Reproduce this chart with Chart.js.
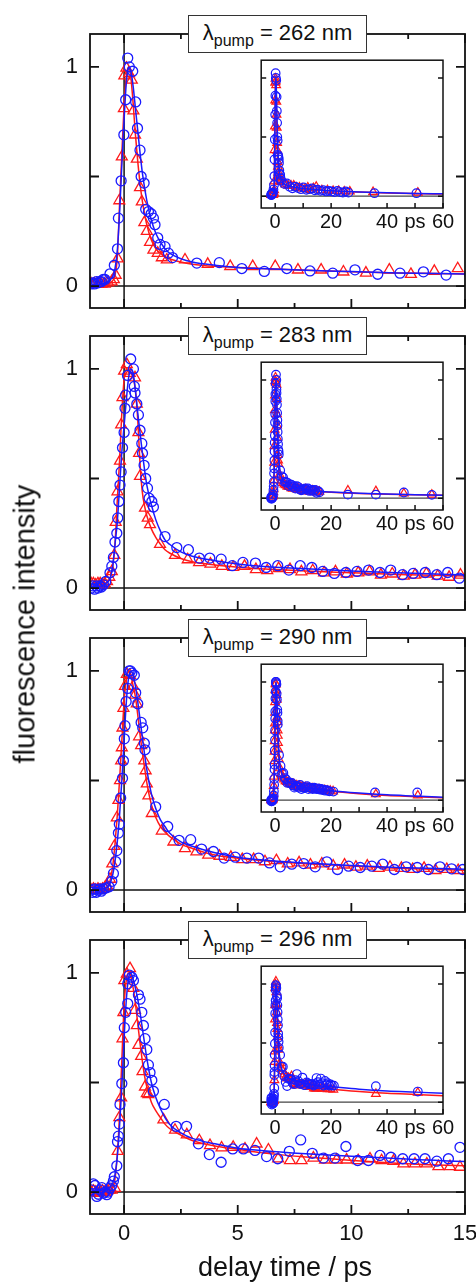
<!DOCTYPE html>
<html><head><meta charset="utf-8">
<script src="https://cdn.jsdelivr.net/npm/chart.js@4.4.1/dist/chart.umd.min.js"></script>
<style>
html,body{margin:0;padding:0;background:#fff;overflow:hidden;}
body{width:476px;height:1283px;position:relative;font-family:"Liberation Sans",Arial,sans-serif;color:#000;}
.wrap{position:absolute;}
.wrap canvas{display:block;}
.lab{position:absolute;left:188px;width:179px;height:38px;box-sizing:border-box;border:1.5px solid #333;background:#fff;font-size:22px;line-height:33px;text-align:center;color:#111;z-index:5;white-space:nowrap;}
.lab sub{font-size:16px;vertical-align:-6px;line-height:0;}
.title{position:absolute;transform:translate(-50%,-50%);white-space:nowrap;color:#111;}
</style></head>
<body>
<div id="root"></div>
<div class="title" style="left:285px;top:1267px;font-size:27px;">delay time / ps</div>
<div class="title" style="left:25px;top:624px;font-size:29px;transform:translate(-50%,-50%) rotate(-90deg);">fluorescence intensity</div>
<script>
// ---------------- data ----------------
const pumpLabels = ['262', '283', '290', '296'];
const fitT = [-1.5,-1,-0.7,-0.6,-0.5,-0.4,-0.3,-0.2,-0.1,0,0.1,0.2,0.3,0.4,0.5,0.6,0.7,0.8,0.9,1.0,1.2,1.4,1.6,1.8,2,2.5,3,4,5,6,8,10,12,15,20,30,40,50,60];

// panel 1 (262 nm)
const p1RedT = [-1.45,-1.3,-1.15,-1.0,-0.85,-0.7,-0.55,-0.45,-0.37,-0.28,-0.21,-0.10,-0.01,0.01,0.10,0.22,0.34,0.41,0.48,0.56,0.70,0.78,0.89,1.0,1.14,1.29,1.48,1.66,1.88,2.68,3.68,4.67,5.66,6.65,7.65,8.67,9.65,10.64,11.67,12.62,13.65,14.68,16.7,18.7,20.7,22.7,24.7,26.7,35,51];
const p1RedI = [0.01,0.01,0.01,0.01,0.01,0.015,0.02,0.03,0.05,0.125,0.39,0.59,0.81,0.96,0.995,0.97,0.94,0.80,0.69,0.58,0.45,0.385,0.29,0.25,0.20,0.165,0.15,0.13,0.12,0.12,0.10,0.09,0.09,0.09,0.074,0.074,0.065,0.06,0.074,0.054,0.068,0.08,0.05,0.05,0.045,0.045,0.04,0.04,0.035,0.03];
const p1BlueT = [-1.45,-1.38,-1.3,-1.22,-1.15,-1.07,-1.0,-0.92,-0.84,-0.62,-0.43,-0.29,-0.25,-0.13,-0.01,0.07,0.16,0.23,0.38,0.51,0.59,0.70,0.75,0.88,0.95,1.07,1.19,1.29,1.36,1.48,1.58,1.80,1.95,2.13,3.2,4.19,5.18,6.17,7.16,8.18,9.18,10.16,11.16,12.14,13.17,14.17,15.2,16.2,17.2,18.2,19.2,20.2,21.2,22.2,23.2,24.2,25.2,26.2,35.5,50.5];
const p1BlueI = [0.01,0.015,0.01,0.02,0.015,0.02,0.02,0.03,0.03,0.056,0.095,0.17,0.31,0.48,0.69,0.85,1.04,1.0,0.98,0.84,0.72,0.62,0.50,0.47,0.35,0.34,0.33,0.31,0.28,0.22,0.19,0.18,0.15,0.13,0.105,0.107,0.08,0.067,0.08,0.069,0.059,0.074,0.054,0.059,0.065,0.05,0.055,0.045,0.05,0.04,0.045,0.04,0.035,0.045,0.035,0.03,0.04,0.03,0.025,0.025];
const p1RedFit = [0,0.005,0.01,0.015,0.025,0.05,0.13,0.37,0.6,0.82,0.96,1.0,0.95,0.83,0.69,0.57,0.47,0.39,0.33,0.28,0.21,0.17,0.15,0.135,0.125,0.11,0.1,0.09,0.085,0.08,0.072,0.065,0.06,0.055,0.045,0.035,0.027,0.022,0.018];
const p1BlueFit = [0.005,0.01,0.02,0.03,0.045,0.08,0.16,0.33,0.55,0.76,0.93,1.0,0.98,0.91,0.81,0.71,0.61,0.52,0.45,0.39,0.3,0.24,0.2,0.17,0.15,0.125,0.11,0.095,0.085,0.08,0.072,0.066,0.06,0.055,0.045,0.035,0.028,0.023,0.02];

// panel 2 (283 nm)
const p2RedT = [-1.45,-1.35,-1.25,-1.15,-1.05,-0.95,-0.85,-0.75,-0.65,-0.54,-0.43,-0.37,-0.29,-0.18,-0.13,-0.07,0.0,0.12,0.25,0.48,0.56,0.63,0.66,0.70,0.92,1.04,1.14,1.58,2.24,2.8,3.3,3.8,4.3,4.8,5.3,5.8,6.3,6.8,7.3,7.8,8.3,8.8,9.3,9.8,10.3,10.8,11.3,11.8,12.3,12.8,13.3,13.8,14.3,14.8,15.3,15.8,26,36,46,56];
const p2RedI = [0.02,0.02,0.015,0.02,0.02,0.015,0.02,0.03,0.05,0.076,0.15,0.30,0.44,0.58,0.745,0.87,0.99,1.02,0.98,0.96,0.84,0.71,0.615,0.51,0.365,0.32,0.29,0.20,0.15,0.13,0.117,0.11,0.1,0.095,0.1,0.085,0.08,0.09,0.085,0.075,0.08,0.07,0.075,0.065,0.07,0.075,0.06,0.065,0.055,0.06,0.065,0.055,0.05,0.06,0.05,0.055,0.065,0.06,0.04,0.03];
const p2BlueT = [-1.45,-1.38,-1.3,-1.22,-1.15,-1.07,-1.0,-0.91,-0.81,-0.62,-0.54,-0.47,-0.40,-0.32,-0.28,-0.23,-0.18,-0.13,-0.07,0.0,0.04,0.07,0.15,0.29,0.41,0.45,0.48,0.56,0.63,0.70,0.78,0.81,0.88,0.95,1.03,1.10,1.22,1.29,1.80,2.32,2.83,3.31,3.77,4.27,4.76,5.23,5.78,6.25,6.76,7.25,7.75,8.26,8.74,9.25,9.76,10.25,10.76,11.26,11.73,12.25,12.72,13.25,13.76,14.24,14.75,15.3,15.8,26,36,46,56];
const p2BlueI = [0.0,0.01,-0.005,0.01,0.0,0.01,0.005,0.015,0.03,0.07,0.10,0.14,0.21,0.25,0.32,0.395,0.47,0.53,0.64,0.71,0.82,0.88,0.97,1.045,1.0,0.92,0.89,0.84,0.79,0.72,0.66,0.615,0.56,0.50,0.456,0.41,0.395,0.37,0.235,0.185,0.175,0.137,0.137,0.132,0.102,0.117,0.114,0.094,0.102,0.082,0.102,0.094,0.076,0.067,0.071,0.076,0.082,0.071,0.082,0.061,0.067,0.071,0.061,0.071,0.045,0.06,0.05,0.03,0.03,0.048,0.028];
const p2RedFit = [0.015,0.02,0.03,0.05,0.1,0.2,0.4,0.58,0.8,0.95,1.0,1.0,0.98,0.96,0.9,0.77,0.57,0.44,0.375,0.33,0.27,0.23,0.2,0.175,0.16,0.135,0.12,0.105,0.095,0.088,0.078,0.07,0.062,0.055,0.05,0.04,0.033,0.028,0.025];
const p2BlueFit = [0.005,0.01,0.03,0.05,0.1,0.2,0.3,0.46,0.62,0.74,0.86,0.96,1.0,0.98,0.9,0.8,0.71,0.62,0.54,0.47,0.38,0.31,0.26,0.22,0.2,0.165,0.145,0.125,0.11,0.1,0.088,0.078,0.07,0.06,0.052,0.042,0.035,0.03,0.025];

// panel 3 (290 nm)
const p3RedT = [-1.45,-1.35,-1.25,-1.15,-1.05,-0.95,-0.85,-0.75,-0.62,-0.52,-0.43,-0.32,-0.25,-0.18,-0.13,-0.10,-0.07,-0.03,0.04,0.12,0.26,0.40,0.48,0.56,0.66,0.75,0.89,0.95,1.0,1.07,1.22,1.66,2.17,2.68,3.18,3.7,4.2,4.7,5.2,5.7,6.2,6.7,7.2,7.7,8.2,8.7,9.2,9.7,10.2,10.7,11.2,11.7,12.2,12.7,13.2,13.7,14.2,14.7,15.7,16.7,17.7,18.7,19.7,20.7,36,51];
const p3RedI = [0.0,0.005,0.0,0.005,0.0,0.005,0.01,0.02,0.05,0.12,0.20,0.33,0.41,0.50,0.59,0.65,0.74,0.83,0.93,0.985,0.98,0.93,0.89,0.85,0.70,0.66,0.59,0.545,0.485,0.43,0.35,0.27,0.22,0.19,0.175,0.16,0.155,0.15,0.14,0.14,0.13,0.135,0.12,0.125,0.115,0.12,0.11,0.115,0.105,0.11,0.1,0.105,0.1,0.095,0.1,0.09,0.095,0.09,0.09,0.085,0.085,0.08,0.08,0.075,0.05,0.04];
const p3BlueT = [-1.45,-1.38,-1.3,-1.22,-1.15,-1.07,-1.0,-0.92,-0.8,-0.66,-0.54,-0.47,-0.37,-0.32,-0.25,-0.21,-0.15,-0.07,-0.03,0.01,0.04,0.09,0.16,0.22,0.28,0.34,0.45,0.51,0.60,0.75,0.82,0.89,0.92,1.39,1.92,2.42,2.93,3.41,3.93,4.40,4.89,5.40,5.92,6.40,6.87,7.38,7.90,8.41,8.92,9.39,9.88,10.39,10.90,11.38,11.89,12.41,12.90,13.39,13.90,14.41,14.90,15.4,15.9,16.4,16.9,17.4,17.9,18.4,18.9,19.4,20.8,35.7,50.8];
const p3BlueI = [0.0,-0.01,0.005,-0.01,0.0,0.005,-0.005,0.005,0.01,0.015,0.04,0.076,0.13,0.18,0.26,0.30,0.42,0.51,0.59,0.69,0.75,0.86,0.92,1.0,1.0,0.99,0.98,0.90,0.85,0.765,0.74,0.67,0.64,0.38,0.29,0.227,0.23,0.187,0.176,0.146,0.15,0.146,0.146,0.124,0.106,0.118,0.121,0.106,0.129,0.094,0.109,0.103,0.109,0.118,0.094,0.106,0.103,0.094,0.106,0.097,0.094,0.1,0.09,0.095,0.085,0.09,0.08,0.085,0.08,0.075,0.073,0.065,0.065];
const p3RedFit = [0,0.005,0.02,0.05,0.11,0.21,0.34,0.5,0.68,0.86,0.96,1.0,0.98,0.93,0.88,0.8,0.71,0.63,0.56,0.49,0.39,0.33,0.29,0.265,0.245,0.21,0.19,0.16,0.145,0.135,0.12,0.11,0.1,0.09,0.075,0.055,0.04,0.03,0.02];
const p3BlueFit = [0,0.005,0.015,0.035,0.07,0.13,0.22,0.34,0.5,0.68,0.86,0.97,1.0,0.98,0.93,0.86,0.78,0.7,0.62,0.55,0.44,0.37,0.32,0.29,0.26,0.22,0.2,0.17,0.15,0.138,0.123,0.112,0.103,0.095,0.08,0.06,0.045,0.035,0.025];

// panel 4 (296 nm)
const p4RedT = [-1.45,-1.35,-1.25,-1.15,-1.05,-0.95,-0.85,-0.75,-0.65,-0.55,-0.40,-0.28,-0.21,-0.13,-0.07,-0.03,0.01,0.12,0.26,0.41,0.48,0.56,0.63,0.75,0.81,0.92,1.0,1.07,1.73,2.24,2.76,3.31,3.78,4.29,4.8,5.32,5.83,6.35,6.78,7.3,7.81,8.33,8.84,9.35,9.79,10.3,10.82,11.33,11.85,12.29,12.8,13.32,13.83,14.34,14.78,15.8,16.8,17.8,18.8,19.8,20.8,36,51];
const p4RedI = [0.0,0.005,0.0,-0.005,0.0,0.005,0.0,0.005,0.01,0.01,0.018,0.186,0.34,0.43,0.70,0.82,0.965,0.995,1.02,0.93,0.83,0.76,0.67,0.62,0.55,0.48,0.45,0.445,0.33,0.283,0.262,0.235,0.213,0.202,0.205,0.197,0.22,0.193,0.152,0.144,0.144,0.156,0.147,0.147,0.147,0.144,0.152,0.144,0.141,0.129,0.129,0.129,0.117,0.117,0.114,0.12,0.115,0.115,0.11,0.11,0.105,0.07,0.08];
const p4BlueT = [-1.45,-1.35,-1.28,-1.2,-1.13,-1.06,-0.98,-0.91,-0.84,-0.76,-0.7,-0.62,-0.55,-0.47,-0.43,-0.32,-0.29,-0.25,-0.21,-0.18,-0.10,-0.03,0.01,0.07,0.16,0.16,0.23,0.34,0.41,0.63,0.70,0.78,0.85,0.92,1.0,1.07,1.14,1.22,1.29,1.77,2.29,2.75,3.27,3.75,4.27,4.78,5.25,5.76,6.27,6.76,7.27,7.77,8.28,8.77,9.28,9.76,10.28,10.75,11.26,11.74,12.26,12.76,13.24,13.76,14.27,14.78,15.3,15.8,16.3,16.8,17.3,17.8,18.3,18.8,19.3,19.8,20.3,21,36,51];
const p4BlueI = [0.01,0.037,0.03,-0.02,-0.01,0.01,0.02,-0.005,0.0,-0.012,0.0,0.018,0.03,0.05,0.07,0.12,0.23,0.255,0.31,0.40,0.495,0.59,0.75,0.82,0.86,0.95,0.99,0.98,0.965,0.90,0.88,0.82,0.76,0.70,0.65,0.58,0.545,0.51,0.46,0.40,0.30,0.30,0.22,0.171,0.136,0.197,0.197,0.19,0.162,0.152,0.186,0.238,0.177,0.155,0.155,0.208,0.144,0.144,0.167,0.159,0.152,0.152,0.152,0.141,0.152,0.204,0.17,0.15,0.2,0.16,0.14,0.18,0.15,0.16,0.14,0.15,0.14,0.14,0.135,0.09];
const p4RedFit = [0,0,0.005,0.01,0.02,0.06,0.17,0.35,0.6,0.85,0.97,1.0,0.98,0.93,0.86,0.77,0.68,0.6,0.53,0.48,0.41,0.37,0.34,0.31,0.29,0.26,0.235,0.21,0.195,0.18,0.16,0.145,0.132,0.12,0.11,0.09,0.075,0.065,0.055];
const p4BlueFit = [0.005,0.01,0.015,0.025,0.04,0.08,0.16,0.3,0.48,0.7,0.88,0.98,1.0,0.97,0.93,0.88,0.82,0.75,0.68,0.61,0.5,0.43,0.38,0.34,0.31,0.27,0.245,0.22,0.2,0.19,0.175,0.163,0.153,0.14,0.13,0.11,0.095,0.085,0.075];

// ticks
const mainXTickMarks = [0, 2.5, 5, 7.5, 10, 12.5, 15];
const mainXLabelTicks = [0, 5, 10, 15];
const mainYTickMarks = [0, 0.5, 1];
const mainYLabelTicks = [0, 1];
const insetXTicks = [0, 10, 20, 30, 40, 50, 60];
const insetXLabels = ['0', '', '20', '', '40', 'ps', '60'];
const insetYTickMarks = [0, 0.5, 1];

// ---------------- drawing ----------------
const RED = '#ff1a1a', BLUE = '#1a1aff';
Chart.defaults.font.family = '"Liberation Sans", Arial, sans-serif';
Chart.defaults.color = '#111';

const panels = [
  {rt:p1RedT, ri:p1RedI, bt:p1BlueT, bi:p1BlueI, rf:p1RedFit, bf:p1BlueFit},
  {rt:p2RedT, ri:p2RedI, bt:p2BlueT, bi:p2BlueI, rf:p2RedFit, bf:p2BlueFit},
  {rt:p3RedT, ri:p3RedI, bt:p3BlueT, bi:p3BlueI, rf:p3RedFit, bf:p3BlueFit},
  {rt:p4RedT, ri:p4RedI, bt:p4BlueT, bi:p4BlueI, rf:p4RedFit, bf:p4BlueFit}
];

function pts(xs, ys) { return xs.map((x, i) => ({x: x, y: ys[i]})); }

const framePlugin = {
  id: 'frame',
  beforeDraw(chart, args, o) {
    if (!o.fill) return;
    const a = chart.chartArea, c = chart.ctx;
    c.save(); c.fillStyle = '#fff'; c.fillRect(a.left, a.top, a.width, a.height); c.restore();
  },
  beforeDatasetsDraw(chart, args, o) {
    const a = chart.chartArea, c = chart.ctx, xs = chart.scales.x, ys = chart.scales.y;
    c.save();
    c.strokeStyle = o.zeroColor; c.lineWidth = o.zeroWidth;
    const y0 = ys.getPixelForValue(0);
    c.beginPath(); c.moveTo(a.left, y0); c.lineTo(a.right, y0); c.stroke();
    if (o.vzero) {
      const x0 = xs.getPixelForValue(0);
      c.beginPath(); c.moveTo(x0, a.top); c.lineTo(x0, a.bottom); c.stroke();
    }
    c.restore();
  },
  afterDatasetsDraw(chart, args, o) {
    const a = chart.chartArea, c = chart.ctx, xs = chart.scales.x, ys = chart.scales.y;
    c.save();
    c.strokeStyle = '#111'; c.lineWidth = o.frameWidth;
    c.strokeRect(a.left, a.top, a.width, a.height);
    c.beginPath();
    o.xt.forEach(v => {
      const px = xs.getPixelForValue(v);
      const len = (o.xMajor && v % o.xMajor === 0) ? o.xl : o.xlMinor;
      c.moveTo(px, a.bottom); c.lineTo(px, a.bottom - len);
      if (o.xTop) { c.moveTo(px, a.top); c.lineTo(px, a.top + len); }
    });
    o.yt.forEach(v => {
      const py = ys.getPixelForValue(v);
      c.moveTo(a.left, py); c.lineTo(a.left + o.yl, py);
      c.moveTo(a.right, py); c.lineTo(a.right - o.yl, py);
    });
    c.stroke();
    c.restore();
  }
};

function makeDatasets(p, inset) {
  const rc = inset ? 4.3 : 5, rtri = inset ? 5 : 6.3, bw = inset ? 1.2 : 1.3;
  return [
    {data: pts(p.bt, p.bi), showLine: false, pointStyle: 'circle', pointRadius: rc, borderColor: BLUE, backgroundColor: 'rgba(0,0,0,0)', pointBorderWidth: bw, order: 0},
    {data: pts(fitT, p.bf), showLine: true, pointRadius: 0, borderColor: BLUE, borderWidth: 1.5, cubicInterpolationMode: 'monotone', order: 1},
    {data: pts(fitT, p.rf), showLine: true, pointRadius: 0, borderColor: RED, borderWidth: 1.5, cubicInterpolationMode: 'monotone', order: 2},
    {data: pts(p.rt, p.ri), showLine: false, pointStyle: 'triangle', pointRadius: rtri, borderColor: RED, backgroundColor: 'rgba(0,0,0,0)', pointBorderWidth: bw, order: 3}
  ];
}

const root = document.getElementById('root');
const panelTops = [34, 336, 638, 940];
const PH = 274;

panels.forEach((p, i) => {
  const T = panelTops[i];
  const bottomPanel = (i === panels.length - 1);
  // main chart
  const padTop = 10, xAxisH = bottomPanel ? 42 : 0, padBot = bottomPanel ? 2 : 10;
  const W = 436, H = padTop + PH + xAxisH + padBot;
  const wrap = document.createElement('div');
  wrap.className = 'wrap';
  wrap.style.left = '40px'; wrap.style.top = (T - padTop) + 'px';
  const cv = document.createElement('canvas'); cv.width = W; cv.height = H;
  wrap.appendChild(cv); root.appendChild(wrap);
  new Chart(cv, {
    type: 'scatter',
    data: {datasets: makeDatasets(p, false)},
    options: {
      responsive: false, animation: false, events: [], devicePixelRatio: 1,
      layout: {padding: {top: padTop, bottom: padBot, left: 0, right: 11}},
      plugins: {legend: {display: false}, tooltip: {enabled: false},
        frame: {fill: false, vzero: true, zeroColor: '#111', zeroWidth: 1.5, frameWidth: 1.8,
                xt: mainXTickMarks, xMajor: 5, xl: 9, xlMinor: 5, xTop: true, yt: mainYTickMarks, yl: 9}},
      scales: {
        x: {type: 'linear', min: -1.5, max: 15,
            grid: {display: false, drawTicks: false}, border: {display: false},
            ticks: {display: bottomPanel, font: {size: 22}, color: '#111', padding: 7, autoSkip: false, maxRotation: 0, callback: v => String(v)},
            afterBuildTicks: s => { s.ticks = mainXLabelTicks.map(v => ({value: v})); },
            afterFit: s => { s.height = xAxisH; s.paddingLeft = 0; s.paddingRight = 0; }},
        y: {type: 'linear', min: -0.1, max: 1.15,
            grid: {display: false, drawTicks: false}, border: {display: false},
            ticks: {font: {size: 22}, color: '#111', padding: 12, callback: v => String(v)},
            afterBuildTicks: s => { s.ticks = mainYLabelTicks.map(v => ({value: v})); },
            afterFit: s => { s.width = 50; s.paddingTop = 0; s.paddingBottom = 0; }}
      }
    },
    plugins: [framePlugin]
  });

  // inset chart
  const iPadTop = 6, iPadLeft = 6, iPadRight = 16, iXH = 30, iPadBot = 2, IH = 148;
  const iW = iPadLeft + (443 - 261) + iPadRight, iH = iPadTop + IH + iXH + iPadBot;
  const iwrap = document.createElement('div');
  iwrap.className = 'wrap';
  iwrap.style.left = (261 - iPadLeft) + 'px'; iwrap.style.top = (T + 26 - iPadTop) + 'px';
  const icv = document.createElement('canvas'); icv.width = iW; icv.height = iH;
  iwrap.appendChild(icv); root.appendChild(iwrap);
  new Chart(icv, {
    type: 'scatter',
    data: {datasets: makeDatasets(p, true)},
    options: {
      responsive: false, animation: false, events: [], devicePixelRatio: 1,
      layout: {padding: {top: iPadTop, bottom: iPadBot, left: iPadLeft, right: iPadRight}},
      plugins: {legend: {display: false}, tooltip: {enabled: false},
        frame: {fill: true, vzero: false, zeroColor: '#444', zeroWidth: 1.3, frameWidth: 1.5,
                xt: insetXTicks, xMajor: 0, xl: 5, xlMinor: 5, xTop: false, yt: insetYTickMarks, yl: 5}},
      scales: {
        x: {type: 'linear', min: -5, max: 60,
            grid: {display: false, drawTicks: false}, border: {display: false},
            ticks: {font: {size: 20}, color: '#111', padding: 2, autoSkip: false, maxRotation: 0,
                    callback: (v) => { const k = insetXTicks.indexOf(v); return k >= 0 ? insetXLabels[k] : ''; }},
            afterBuildTicks: s => { s.ticks = insetXTicks.map(v => ({value: v})); },
            afterFit: s => { s.height = iXH; s.paddingLeft = 0; s.paddingRight = 0; }},
        y: {type: 'linear', min: -0.1, max: 1.15,
            grid: {display: false, drawTicks: false}, border: {display: false},
            ticks: {display: false},
            afterFit: s => { s.width = 0; s.paddingTop = 0; s.paddingBottom = 0; }}
      }
    },
    plugins: [framePlugin]
  });

  // label box
  const lab = document.createElement('div');
  lab.className = 'lab';
  lab.style.top = (T - 19) + 'px';
  lab.innerHTML = '\u03bb<sub>pump</sub> = ' + pumpLabels[i] + ' nm';
  root.appendChild(lab);
});
</script>
</body></html>
